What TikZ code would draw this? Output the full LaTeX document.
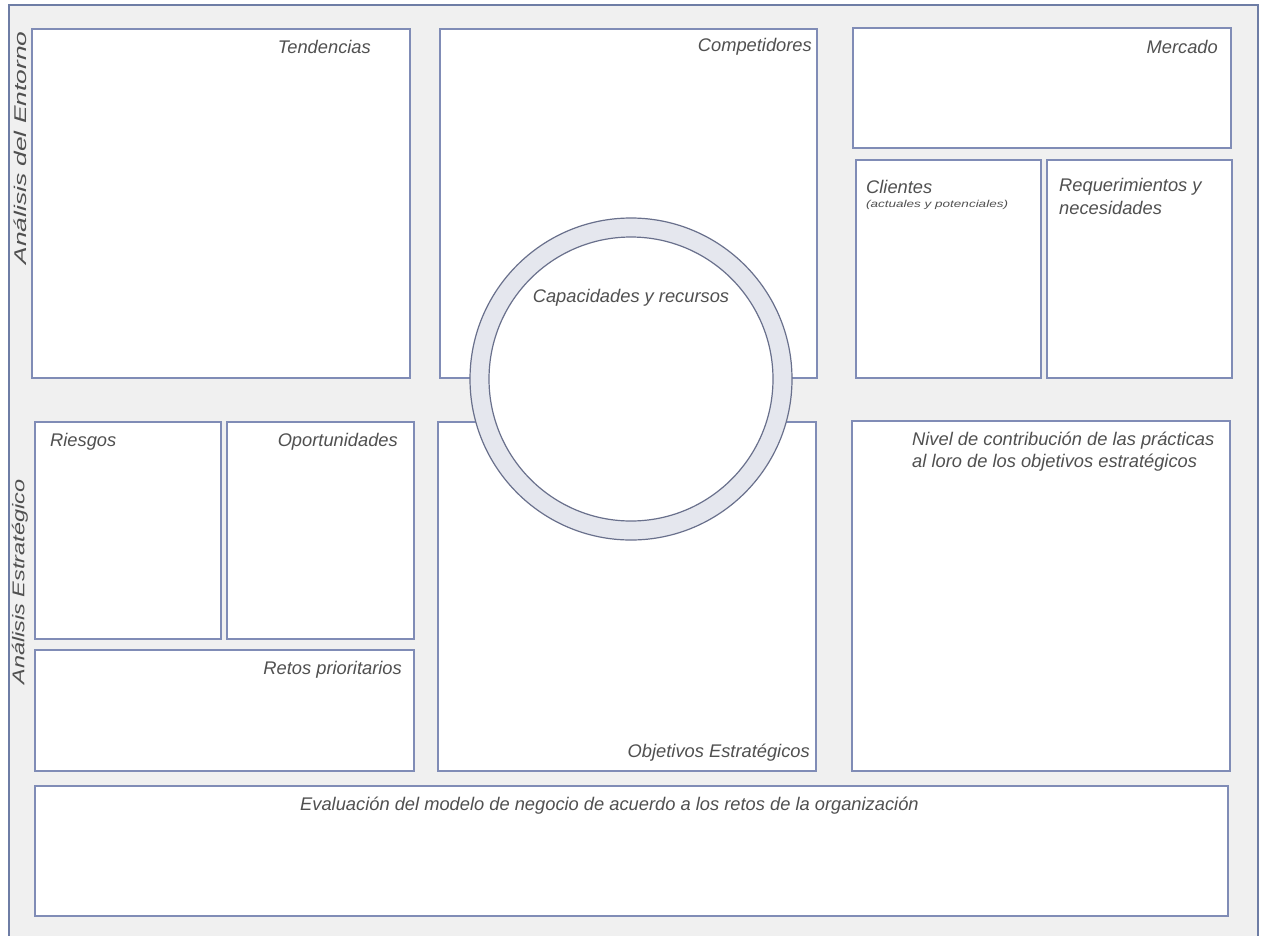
\documentclass[tikz,border=0pt]{standalone}
\usepackage{fontspec}
\setmainfont{Liberation Sans}
\definecolor{bgc}{RGB}{240,240,240}
\definecolor{boxc}{RGB}{128,140,182}
\definecolor{framec}{RGB}{110,125,165}
\definecolor{ringc}{RGB}{229,231,238}
\definecolor{ringl}{RGB}{105,112,140}
\definecolor{txtc}{RGB}{80,80,80}
\begin{document}
\begin{tikzpicture}[x=1pt,y=-1pt,
  panel/.style={draw=boxc, fill=white, line width=1.4pt, inner sep=0pt, outer sep=0pt, anchor=north west},
  lbl/.style={font=\itshape\fontsize{18.3}{22}\selectfont, text=txtc, inner sep=0pt},
  sidelbl/.style={font=\itshape\fontsize{17}{20}\selectfont, text=txtc, inner sep=0pt, rotate=90}]
\useasboundingbox (0,0) rectangle (1265,935);
\fill[bgc] (9,5) rectangle (1258,940);
\draw[framec, line width=1.4pt] (9,940) -- (9,5) -- (1258,5) -- (1258,940);

% top row
\node[panel, minimum width=378pt, minimum height=349pt] (tend) at (32,29) {};
\node[panel, minimum width=377pt, minimum height=349pt] (comp) at (440,29) {};
\node[panel, minimum width=378pt, minimum height=120pt] (merc) at (853,28) {};
\node[panel, minimum width=185pt, minimum height=218pt] (clie) at (856,160) {};
\node[panel, minimum width=185pt, minimum height=218pt] (requ) at (1047,160) {};

% middle row
\node[panel, minimum width=186pt, minimum height=217pt] (ries) at (35,422) {};
\node[panel, minimum width=187pt, minimum height=217pt] (opor) at (227,422) {};
\node[panel, minimum width=379pt, minimum height=121pt] (reto) at (35,650) {};
\node[panel, minimum width=378pt, minimum height=349pt] (obje) at (438,422) {};
\node[panel, minimum width=378pt, minimum height=350pt] (nive) at (852,421) {};

% bottom
\node[panel, minimum width=1193pt, minimum height=130pt] (eval) at (35,786) {};

% ring
\node[circle, draw=ringl, fill=ringc, line width=1.2pt, minimum size=322pt, inner sep=0pt] (ring) at (631,379) {};
\node[circle, draw=ringl, fill=white, line width=1.2pt, minimum size=284pt, inner sep=0pt] (capa) at (631,379) {};

% labels
\node[lbl, anchor=east] (tTend) at (371,47) {Tendencias};
\node[lbl, anchor=east] (tComp) at (812,47) {Competidores};
\node[lbl, anchor=east] (tMerc) at (1218,47) {Mercado};
\node[lbl, anchor=west] (tClie) at (866,187) {Clientes};
\node[lbl, anchor=west, font=\itshape\fontsize{10}{12}\selectfont] (tClie2) at (866,205) {\scalebox{1.35}[1]{(actuales y potenciales)}};
\node[lbl, anchor=north west, align=left, font=\itshape\fontsize{18.3}{23}\selectfont] (tRequ) at (1059,178) {Requerimientos y\\necesidades};
\node[lbl] (tCapa) at (631,298) {Capacidades y recursos};
\node[lbl, anchor=west] (tRies) at (50,442) {Riesgos};
\node[lbl, anchor=east] (tOpor) at (398,442) {Oportunidades};
\node[lbl, anchor=east] (tReto) at (402,670) {Retos prioritarios};
\node[lbl, anchor=east] (tObje) at (810,753) {Objetivos Estratégicos};
\node[lbl, anchor=north west, align=left, font=\itshape\fontsize{18.3}{22}\selectfont] (tNive) at (912,432) {Nivel de contribución de las prácticas\\al loro de los objetivos estratégicos};
\node[lbl, anchor=west] (tEval) at (300,806) {Evaluación del modelo de negocio de acuerdo a los retos de la organización};
\node[sidelbl] (tEnt) at (20,148) {\scalebox{1.55}[1]{Análisis del Entorno}};
\node[sidelbl] (tEst) at (20,582) {\scalebox{1.38}[1]{Análisis Estratégico}};
\end{tikzpicture}
\end{document}
